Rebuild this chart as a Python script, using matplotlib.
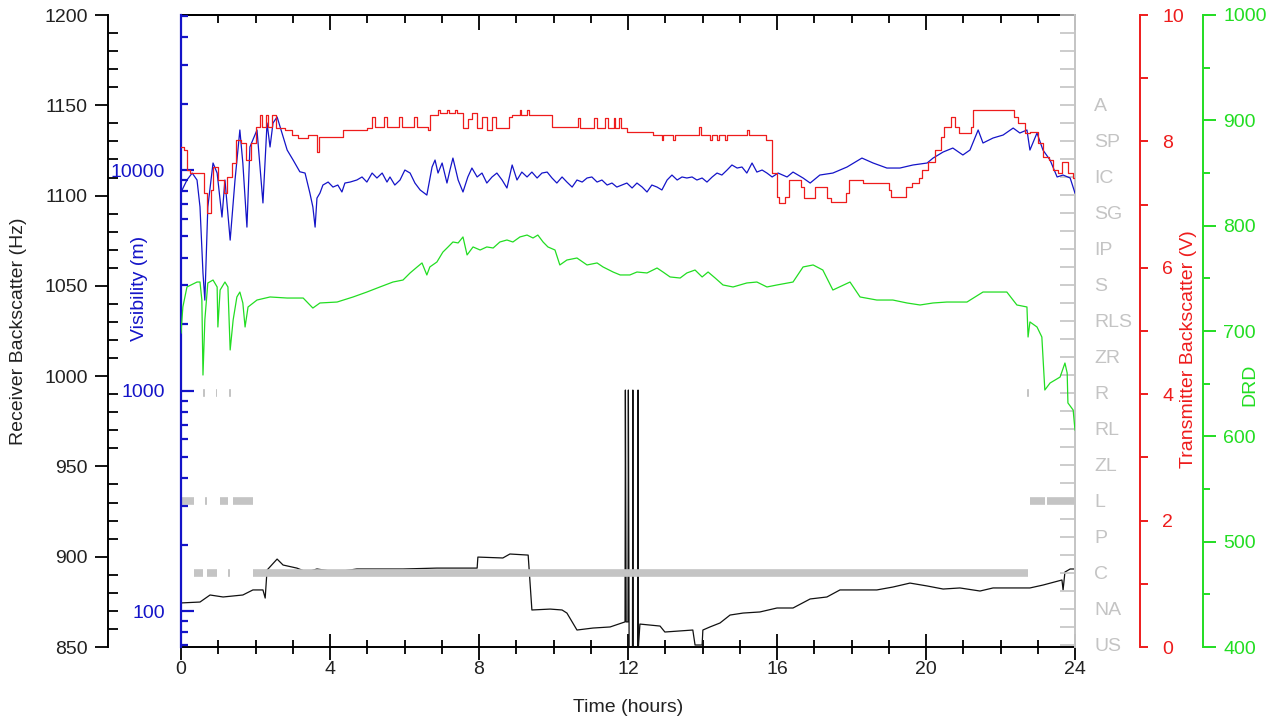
import numpy as np
import matplotlib
matplotlib.use("Agg")
import matplotlib.pyplot as plt
from matplotlib import ticker

plt.rcParams['font.family'] = ['Liberation Sans', 'DejaVu Sans']
plt.rcParams['font.size'] = 14

# Receiver backscatter (Hz)
rx_t = [0.0, 0.51, 0.78, 1.13, 1.66, 1.93, 2.20, 2.26, 2.31, 2.58, 2.74, 3.11, 3.38, 3.65, 4.00, 4.35,
        4.72, 5.96, 6.87, 7.95, 7.97, 8.64, 8.83, 9.32, 9.42, 9.91, 10.23, 10.36, 10.63, 11.06, 11.52,
        11.92, 11.93, 11.95, 12.00, 12.01, 12.03, 12.12, 12.13, 12.14, 12.26, 12.27, 12.28, 12.32,
        12.86, 12.99, 13.74, 13.80, 13.99, 14.01, 14.20, 14.47, 14.74, 15.09, 15.54, 16.00, 16.43,
        16.89, 17.34, 17.69, 18.04, 18.68, 19.11, 19.57, 20.03, 20.46, 20.91, 21.45, 21.80, 22.34,
        22.79, 23.14, 23.65, 23.68, 23.73, 23.87, 24.00]
rx_hz = [874.4, 874.9, 878.8, 877.7, 878.8, 881.6, 881.6, 877.1, 892.6, 898.7, 895.4, 893.7, 891.5,
         893.2, 892.1, 892.1, 893.2, 893.2, 893.7, 893.7, 899.8, 899.3, 901.5, 900.9, 870.5, 871.0,
         870.5, 868.8, 859.4, 860.5, 861.1, 863.9, 992.3, 863.9, 863.9, 992.3, 850.0, 850.0, 992.3,
         850.0, 850.0, 992.3, 850.0, 862.7, 861.6, 858.3, 859.4, 851.1, 851.1, 859.4, 861.1, 863.3,
         867.7, 868.8, 869.4, 871.6, 871.6, 876.6, 877.7, 881.6, 881.6, 881.6, 883.2, 885.4, 883.8,
         882.1, 882.7, 881.0, 882.7, 882.7, 882.7, 884.3, 887.1, 881.6, 891.5, 893.2, 893.2]

# Visibility (m)
vis_t = [0.03, 0.16, 0.30, 0.43, 0.51, 0.59, 0.64, 0.72, 0.86, 0.97, 1.10, 1.18, 1.32, 1.45, 1.58,
         1.66, 1.77, 1.85, 2.04, 2.20, 2.31, 2.39, 2.47, 2.58, 2.71, 2.85, 3.01,
         3.19, 3.33, 3.46, 3.54, 3.60, 3.65, 3.73, 3.81, 3.95, 4.08, 4.21, 4.32, 4.40, 4.54, 4.72,
         4.86, 4.99, 5.13, 5.26, 5.40, 5.53, 5.61, 5.74, 5.88, 6.01, 6.15, 6.28, 6.42, 6.60, 6.74,
         6.82, 6.90, 7.01, 7.14, 7.22, 7.30, 7.44, 7.57, 7.70, 7.81, 7.95, 8.08, 8.21, 8.35, 8.48,
         8.62, 8.75, 8.89, 9.02, 9.15, 9.29, 9.42, 9.56, 9.69, 9.83, 9.96, 10.09, 10.23, 10.36,
         10.50, 10.63, 10.77, 10.90, 11.03, 11.17, 11.30, 11.44, 11.57, 11.70, 11.84, 11.97, 12.11,
         12.24, 12.38, 12.51, 12.64, 12.78, 12.91, 13.05, 13.18, 13.32, 13.45, 13.58, 13.72, 13.85,
         13.99, 14.12, 14.26, 14.39, 14.52, 14.66, 14.79, 14.93, 15.06, 15.19, 15.33, 15.46, 15.60,
         15.73, 15.87, 16.03,
         16.27, 16.43, 16.70, 16.89, 17.15, 17.50, 17.88, 18.28, 18.58, 18.95, 19.30, 19.65, 20.03,
         20.19, 20.46, 20.72, 20.99, 21.18, 21.40, 21.53, 21.80, 22.07, 22.34, 22.52, 22.71, 22.79,
         22.98, 23.14, 23.33, 23.52, 23.68, 23.87, 24.00]
vis_m = [8120, 9010, 9690, 9010, 6800, 3410, 2570, 6800, 10760, 9690, 6120, 9010, 4810, 9010, 15190,
         10760, 5510, 12720, 15190, 7090, 16340, 12720, 16340, 17400, 14720, 12320, 11100,
         9820, 9690, 7860, 6800, 5510, 7460, 7860, 8550, 8820, 8370, 8550, 7950, 8730, 8820, 9010,
         9300, 8820, 9690, 9200, 9690, 8820, 9300, 8550, 9010, 10000, 9690, 8730, 8120, 7700, 10320,
         11100, 9690, 10760, 8730, 10000, 11330, 9010, 7950, 9300, 10210, 9300, 9690, 8730, 9300, 9690,
         9010, 8290, 10540, 9010, 9790, 9300, 9790, 9200, 9690, 9790, 9200, 8730, 9300, 8820,
         8370, 9010, 8820, 9200, 9300, 8820, 9010, 8550, 8730, 8370, 8550, 8730, 8290,
         8730, 8370, 7950, 8550, 8370, 8120, 9010, 9490, 9010, 9300, 9200, 9300, 9010,
         9200, 8820, 9300, 9690, 9490, 10000, 10540, 10210, 10320, 9690, 10760, 9790, 10000,
         9690, 9300, 9690,
         9300, 9790, 9200, 8730, 9490, 9690, 10320, 11330, 10760, 10210, 10210, 10540, 10760,
         11330, 12070, 12580, 11700, 12320, 15190, 13260, 13970, 14410, 15500, 14720, 15190, 12320,
         14720, 12320, 11100, 9300, 9490, 9200, 7860]

# Transmitter backscatter (V), held values
tx_t = [0.00, 0.08, 0.16, 0.24, 0.62, 0.70, 0.80, 0.86, 1.00, 1.15, 1.24, 1.37, 1.48, 1.62, 1.74,
        1.89, 2.02, 2.12, 2.18, 2.27, 2.34, 2.45, 2.55, 2.78, 2.98, 3.15, 3.40, 3.65, 3.71, 4.35,
        4.98, 5.12, 5.20, 5.45, 5.52, 5.85, 5.93, 6.25, 6.33, 6.63, 6.68, 6.90, 6.95, 7.15, 7.20,
        7.35, 7.40, 7.57, 7.70, 7.80, 7.95, 8.08, 8.22, 8.35, 8.45, 8.80, 8.88, 9.10, 9.14, 9.30,
        9.34, 9.96, 10.66, 10.72, 11.10, 11.18, 11.38, 11.45, 11.62, 11.66, 11.75, 11.80, 11.97,
        12.67, 12.90, 12.95, 13.20, 13.25, 13.90, 13.97, 14.20, 14.25, 14.40, 14.45, 14.60, 14.65,
        15.20, 15.25, 15.70, 15.86, 16.00, 16.06, 16.22, 16.32, 16.65, 16.73, 17.02, 17.33, 17.45,
        17.85, 17.94, 18.31, 19.00, 19.07, 19.45, 19.62, 19.80, 19.90, 20.05, 20.25, 20.40, 20.48,
        20.68, 20.78, 20.88, 21.20, 21.25, 22.36, 22.48, 22.66, 22.80, 23.02, 23.15, 23.30, 23.42,
        23.55, 23.65, 23.80, 23.95, 24.00]
tx_v = [7.91, 7.86, 7.55, 7.50, 7.18, 6.87, 7.23, 7.59, 7.39, 7.18, 7.44, 7.66, 8.02, 7.97, 7.71,
        7.97, 8.23, 8.42, 8.23, 8.42, 8.23, 8.42, 8.21, 8.18, 8.10, 8.05, 8.10, 7.83, 8.07, 8.18,
        8.21, 8.39, 8.23, 8.39, 8.23, 8.39, 8.23, 8.39, 8.23, 8.18, 8.42, 8.50, 8.45, 8.50, 8.45,
        8.50, 8.45, 8.21, 8.36, 8.45, 8.21, 8.39, 8.18, 8.39, 8.21, 8.39, 8.42, 8.50, 8.42, 8.50,
        8.42, 8.23, 8.37, 8.21, 8.37, 8.21, 8.37, 8.21, 8.37, 8.21, 8.37, 8.21, 8.15, 8.10, 8.02,
        8.10, 8.02, 8.10, 8.23, 8.10, 8.02, 8.10, 8.02, 8.10, 8.02, 8.10, 8.18, 8.10, 8.02, 7.50,
        7.12, 7.03, 7.12, 7.39, 7.28, 7.10, 7.28, 7.10, 7.04, 7.18, 7.39, 7.34, 7.23, 7.12, 7.28,
        7.34, 7.42, 7.55, 7.67, 7.86, 8.07, 8.23, 8.39, 8.23, 8.13, 8.23, 8.50, 8.39, 8.29, 8.13,
        8.15, 7.97, 7.75, 7.71, 7.55, 7.50, 7.67, 7.50, 7.42, 7.42]

# DRD
drd_t = [0.00, 0.05, 0.16, 0.43, 0.51, 0.56, 0.59, 0.64, 0.72, 0.86, 0.97, 0.99, 1.05, 1.18, 1.26,
         1.32, 1.40, 1.50, 1.58, 1.66, 1.72, 1.80, 2.04, 2.39, 2.85, 3.28, 3.54, 3.73, 4.19,
         4.62, 4.99, 5.34, 5.69, 5.96, 6.15, 6.34, 6.47, 6.60, 6.68, 6.87, 7.03, 7.17, 7.30, 7.44,
         7.57, 7.68, 7.84, 8.03, 8.21, 8.38, 8.56, 8.75, 8.91, 9.10, 9.29, 9.45, 9.58, 9.72, 9.85,
         10.04, 10.17, 10.36, 10.63, 10.90, 11.17, 11.33, 11.60, 11.79, 12.05, 12.24, 12.51, 12.78,
         12.94, 13.13, 13.40, 13.58, 13.80, 13.99, 14.15, 14.34, 14.55, 14.82, 15.19, 15.46, 15.73,
         16.00, 16.43, 16.70, 16.97, 17.23, 17.50, 17.96,
         18.23, 18.68, 19.11, 19.49, 19.84, 20.19, 20.56, 21.10, 21.53, 21.80, 22.17, 22.44, 22.71,
         22.74, 22.79, 22.98, 23.11, 23.19, 23.33, 23.60, 23.73, 23.79, 23.81, 23.95, 24.00]
drd = [698.1, 722.8, 741.8, 746.5, 746.5, 729.4, 658.2, 710.5, 745.6, 748.4, 741.8, 703.8, 738.9,
       746.5, 741.8, 682.0, 710.5, 732.3, 737.0, 726.6, 703.8, 722.8, 729.4, 732.3, 731.3, 731.3,
       721.8, 726.6, 727.5,
       732.3, 737.0, 741.8, 746.5, 748.4, 755.1, 760.8, 764.6, 753.2, 760.8, 765.5, 774.9, 779.8,
       784.5, 783.6, 789.3, 772.2, 779.8, 776.9, 779.8, 778.8, 784.5, 786.4, 784.5, 789.3, 791.1,
       788.3, 791.1, 784.5, 779.8, 776.9, 762.7, 767.4, 769.3, 762.7, 764.6, 760.8, 756.0, 753.2,
       753.2, 756.0, 755.1, 759.8, 756.0, 751.3, 750.3, 755.1, 757.9, 751.3, 756.0, 750.3, 743.7,
       741.8, 745.6, 746.5, 741.8, 743.7, 746.5, 760.8, 762.7, 757.9, 738.9, 746.5,
       732.3, 729.4, 729.4, 726.6, 724.7, 726.6, 727.5, 727.5, 737.0, 737.0, 737.0, 724.7, 722.8,
       694.3, 708.6, 703.8, 694.3, 644.0, 650.6, 656.3, 669.6, 660.1, 631.7, 625.0, 606.0]

# present weather codes and the periods they were reported
codes = ['US', 'NA', 'C', 'P', 'L', 'ZL', 'RL', 'R', 'ZR', 'RLS', 'S', 'IP', 'SG', 'IC', 'SP', 'A']
obs_code = ['L', 'L', 'L', 'L', 'L', 'L', 'C', 'C', 'C', 'C', 'R', 'R', 'R', 'R']
obs_start = [0.0, 0.64, 1.05, 1.40, 22.79, 23.25, 0.35, 0.70, 1.26, 1.93, 0.60, 0.93, 1.30, 22.72]
obs_end = [0.35, 0.70, 1.26, 1.93, 23.19, 24.0, 0.59, 0.97, 1.32, 22.74, 0.65, 0.97, 1.34, 22.77]

BLUE = '#1414c8'
RED = '#ee1c1c'
GREEN = '#22dd22'
GRAY = '#c4c4c4'
INK = '#222222'

fig = plt.figure(figsize=(12.85, 7.26), dpi=100)
ax = fig.add_axes([181 / 1285, 79 / 726, 894 / 1285, 632 / 726])

# host: receiver backscatter
ax.plot(rx_t, rx_hz, color='#111111', lw=0.9)
ax.set_xlim(0, 24)
ax.set_ylim(850, 1200)
ax.spines['left'].set_position(('outward', 52.6))
ax.spines['right'].set_visible(False)
for s in ['left', 'bottom', 'top']:
    ax.spines[s].set_linewidth(1.4)
ax.xaxis.set_major_locator(ticker.MultipleLocator(4))
ax.xaxis.set_minor_locator(ticker.MultipleLocator(1))
ax.tick_params(axis='x', which='major', direction='inout', length=18.7, width=1.3, pad=1, labelcolor=INK)
ax.tick_params(axis='x', which='minor', direction='inout', length=10, width=1.3)
ax.yaxis.set_major_locator(ticker.MultipleLocator(50))
ax.yaxis.set_minor_locator(ticker.MultipleLocator(10))
ax.tick_params(axis='y', which='major', direction='out', length=9.4, width=1.3, pad=5, labelcolor=INK)
ax.tick_params(axis='y', which='minor', direction='in', length=7, width=1.3)
ax.set_xlabel('Time (hours)', color=INK)
ax.xaxis.set_label_coords(0.5, -0.082)
ax.set_ylabel('Receiver Backscatter (Hz)', color=INK)
ax.yaxis.set_label_coords(-0.172, 0.5)

top = ax.secondary_xaxis('top')
top.xaxis.set_major_locator(ticker.MultipleLocator(4))
top.xaxis.set_minor_locator(ticker.MultipleLocator(1))
top.xaxis.set_major_formatter(ticker.NullFormatter())
top.tick_params(which='major', direction='in', length=11, width=1.3)
top.tick_params(which='minor', direction='in', length=6, width=1.3)
top.spines['top'].set_linewidth(1.4)

# weather code axis
ax_cat = ax.twinx()
for s in ['left', 'top', 'bottom']:
    ax_cat.spines[s].set_visible(False)
ax_cat.spines['right'].set_color(GRAY)
ax_cat.spines['right'].set_linewidth(1.4)
ax_cat.set_ylim(-0.056, 17.5)
ax_cat.yaxis.set_major_locator(ticker.FixedLocator(range(len(codes))))
ax_cat.yaxis.set_major_formatter(ticker.FixedFormatter(codes))
ax_cat.yaxis.set_minor_locator(ticker.MultipleLocator(0.5))
ax_cat.tick_params(axis='y', which='both', direction='in', length=10.8, width=1.2, color=GRAY,
                   labelcolor=GRAY, pad=14)
ax_cat.hlines([codes.index(c) for c in obs_code], obs_start, obs_end, color=GRAY, lw=5.5,
              capstyle='butt')

# visibility, log axis on the left edge
ax_vis = ax.twinx()
for s in ['right', 'top', 'bottom']:
    ax_vis.spines[s].set_visible(False)
ax_vis.spines['left'].set_visible(True)
ax_vis.spines['left'].set_color(BLUE)
ax_vis.spines['left'].set_linewidth(1.6)
ax_vis.yaxis.tick_left()
ax_vis.yaxis.set_label_position('left')
ax_vis.set_yscale('log')
ax_vis.set_ylim(68.7, 50470)
ax_vis.yaxis.set_major_locator(ticker.FixedLocator([100, 1000, 10000]))
ax_vis.yaxis.set_major_formatter(ticker.FuncFormatter(lambda v, p: f'{v:.0f}'))
ax_vis.yaxis.set_minor_locator(ticker.LogLocator(base=10, subs=range(2, 10)))
ax_vis.yaxis.set_minor_formatter(ticker.NullFormatter())
ax_vis.tick_params(axis='y', which='major', direction='in', length=9.4, width=1.6, color=BLUE,
                   labelcolor=BLUE, pad=11.5)
ax_vis.tick_params(axis='y', which='minor', direction='in', length=5, width=1.6, color=BLUE)
ax_vis.set_ylabel('Visibility (m)', color=BLUE)
ax_vis.yaxis.set_label_coords(-0.037, 0.568)
ax_vis.plot(vis_t, vis_m, color=BLUE, lw=0.9)

# transmitter backscatter
ax_red = ax.twinx()
for s in ['left', 'top', 'bottom']:
    ax_red.spines[s].set_visible(False)
ax_red.spines['right'].set_position(('outward', 46.8))
ax_red.spines['right'].set_color(RED)
ax_red.spines['right'].set_linewidth(1.4)
ax_red.set_ylim(0, 10)
ax_red.yaxis.set_major_locator(ticker.MultipleLocator(2))
ax_red.yaxis.set_minor_locator(ticker.MultipleLocator(1))
ax_red.tick_params(axis='y', which='both', direction='out', length=6, width=1.4, color=RED,
                   labelcolor=RED, pad=10)
ax_red.set_ylabel('Transmitter Backscatter (V)', color=RED)
ax_red.yaxis.set_label_coords(1.1174, 0.4715)
ax_red.plot(tx_t, tx_v, color=RED, lw=0.9, drawstyle='steps-post')

# DRD
ax_grn = ax.twinx()
for s in ['left', 'top', 'bottom']:
    ax_grn.spines[s].set_visible(False)
ax_grn.spines['right'].set_position(('outward', 92.2))
ax_grn.spines['right'].set_color(GREEN)
ax_grn.spines['right'].set_linewidth(1.4)
ax_grn.set_ylim(400, 1000)
ax_grn.yaxis.set_major_locator(ticker.MultipleLocator(100))
ax_grn.yaxis.set_minor_locator(ticker.MultipleLocator(50))
ax_grn.tick_params(axis='y', which='major', direction='out', length=9.4, width=1.4, color=GREEN,
                   labelcolor=GREEN, pad=5)
ax_grn.tick_params(axis='y', which='minor', direction='out', length=5, width=1.4, color=GREEN)
ax_grn.set_ylabel('DRD', color=GREEN)
ax_grn.yaxis.set_label_coords(1.1857, 0.4146)
ax_grn.plot(drd_t, drd, color=GREEN, lw=0.9)

fig.savefig('out.png', dpi=100)
